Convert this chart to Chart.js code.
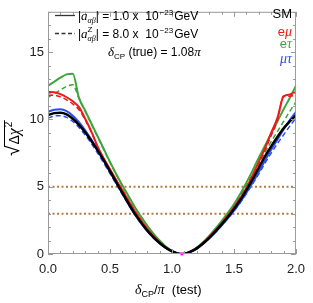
<!DOCTYPE html>
<html>
<head>
<meta charset="utf-8">
<script src="https://cdn.jsdelivr.net/npm/chart.js@4/dist/chart.umd.min.js"></script>
<style>
  html, body { margin: 0; padding: 0; background: #fff; }
  #wrap { width: 313px; height: 303px; }
</style>
</head>
<body>
<div id="wrap"><canvas id="chart"></canvas></div>
<script>
// delta_CP / pi (test) grid shared by every curve
const deltaTest = [0, 0.05, 0.1, 0.15, 0.2, 0.25, 0.3, 0.35, 0.4, 0.45, 0.5, 0.55, 0.6, 0.65, 0.7, 0.75, 0.8, 0.85, 0.9, 0.95,
                   1.0, 1.05, 1.08, 1.1, 1.15, 1.2, 1.25, 1.3, 1.35, 1.4, 1.45, 1.5, 1.55, 1.6, 1.65, 1.7, 1.75, 1.8, 1.85, 1.9, 1.95, 2.0];

// sqrt(delta chi^2)
const smValues = [10.33, 10.47, 10.5, 10.38, 10.05, 9.6, 9.05, 8.4, 7.7, 6.95, 6.15, 5.35, 4.55, 3.75, 3.0, 2.35, 1.75, 1.25, 0.82, 0.47,
                  0.2, 0.03, 0, 0.02, 0.17, 0.42, 0.78, 1.2, 1.68, 2.2, 2.75, 3.35, 4.0, 4.75, 5.55, 6.4, 7.25, 8.0, 8.7, 9.35, 9.85, 10.3];
const mutauSolid = [10.57, 10.72, 10.75, 10.62, 10.28, 9.8, 9.2, 8.5, 7.75, 6.95, 6.12, 5.3, 4.5, 3.7, 2.95, 2.3, 1.72, 1.22, 0.8, 0.46,
                    0.2, 0.03, 0, 0.02, 0.16, 0.4, 0.75, 1.15, 1.62, 2.12, 2.65, 3.22, 3.85, 4.55, 5.3, 6.1, 6.95, 7.75, 8.5, 9.25, 9.95, 10.57];
const mutauDashed = [10.1, 10.25, 10.28, 10.15, 9.85, 9.4, 8.85, 8.2, 7.5, 6.75, 5.98, 5.2, 4.42, 3.65, 2.92, 2.28, 1.7, 1.2, 0.8, 0.46,
                     0.2, 0.03, 0, 0.02, 0.16, 0.4, 0.75, 1.15, 1.6, 2.1, 2.62, 3.18, 3.8, 4.48, 5.2, 5.95, 6.75, 7.5, 8.2, 8.85, 9.5, 10.1];
const emuSolid = [12.05, 12.02, 11.88, 11.65, 11.35, 10.92, 10.05, 9.1, 8.0, 7.1, 6.3, 5.5, 4.75, 3.95, 3.2, 2.5, 1.88, 1.35, 0.88, 0.5,
                  0.22, 0.04, 0, 0.02, 0.18, 0.44, 0.8, 1.24, 1.74, 2.28, 2.85, 3.47, 4.15, 4.9, 5.85, 6.85, 7.85, 9.0, 10.1, 11.7, 11.85, 12.05];
const emuDashed = [11.8, 11.8, 11.68, 11.45, 11.15, 10.72, 9.95, 9.05, 7.95, 7.07, 6.27, 5.48, 4.73, 3.94, 3.19, 2.5, 1.88, 1.35, 0.88, 0.5,
                   0.22, 0.04, 0, 0.02, 0.18, 0.44, 0.8, 1.24, 1.73, 2.27, 2.84, 3.45, 4.12, 4.85, 5.75, 6.7, 7.7, 8.8, 9.9, 11.75, 11.72, 11.8];
const etauSolid = [12.5, 12.8, 13.1, 13.35, 13.4, 11.6, 10.65, 9.7, 8.75, 7.8, 6.85, 5.95, 5.1, 4.3, 3.5, 2.78, 2.12, 1.52, 1.0, 0.56,
                   0.24, 0.04, 0, 0.02, 0.2, 0.48, 0.87, 1.35, 1.88, 2.45, 3.05, 3.7, 4.45, 5.3, 6.2, 7.15, 8.05, 8.95, 9.85, 10.75, 11.6, 12.5];
const etauDashed = [11.65, 11.9, 12.2, 12.45, 12.58, 11.55, 10.6, 9.65, 8.7, 7.75, 6.8, 5.9, 5.05, 4.25, 3.47, 2.75, 2.1, 1.5, 0.98, 0.55,
                    0.24, 0.04, 0, 0.02, 0.2, 0.47, 0.85, 1.32, 1.84, 2.4, 3.0, 3.62, 4.32, 5.1, 5.9, 6.75, 7.55, 8.35, 9.1, 9.85, 10.6, 11.3];

// horizontal confidence levels and the true value
const clLevels = [5, 3];
const deltaTrue = 1.08;

const SANS = '"Liberation Sans", Arial, sans-serif';
const SERIF = '"Liberation Serif", "Times New Roman", serif';
const RED = '#f01818', GREEN = '#3ca53a', BLUE = '#2b4ff0', BROWN = '#b8793e';

const toPoints = ys => ys.map((y, i) => ({ x: deltaTest[i], y }));

function curve(ys, color, dashed, width) {
  return {
    data: toPoints(ys),
    borderColor: color,
    borderWidth: width || (dashed ? 1.5 : 2),
    borderDash: dashed ? [5, 3] : [],
    pointRadius: 0,
    cubicInterpolationMode: 'monotone',
    fill: false
  };
}

const datasets = [
  { data: [{ x: deltaTrue, y: 0 }], showLine: false, pointRadius: 1.6, pointBackgroundColor: '#ff00ff', pointBorderWidth: 0, clip: false },
  curve(smValues, '#000', false, 2.5),
  curve(mutauSolid, BLUE, false),
  curve(mutauDashed, BLUE, true),
  curve(emuSolid, RED, false),
  curve(emuDashed, RED, true),
  curve(etauSolid, GREEN, false),
  curve(etauDashed, GREEN, true)
];
clLevels.forEach(v => {
  datasets.push({
    data: [{ x: 0, y: v }, { x: 2, y: v }],
    borderColor: BROWN, borderWidth: 2, borderDash: [2, 2.5], pointRadius: 0
  });
});

// draw a row of text pieces, each with its own font / offset
function drawRuns(ctx, x, y, parts) {
  parts.forEach(p => {
    ctx.font = p.f;
    ctx.fillStyle = p.c || '#000';
    ctx.fillText(p.t, x, y + (p.dy || 0));
    x += ctx.measureText(p.t).width + (p.dx || 0);
  });
  return x;
}

const decorations = {
  id: 'decorations',
  afterDraw(chart) {
    const ctx = chart.ctx;
    const a = chart.chartArea;
    const xs = chart.scales.x, ys = chart.scales.y;
    ctx.save();

    // frame
    ctx.strokeStyle = '#9a9a9a';
    ctx.lineWidth = 1;
    ctx.strokeRect(a.left + 0.5, a.top + 0.5, a.right - a.left - 1, a.bottom - a.top - 1);

    // inward ticks on all four sides
    ctx.beginPath();
    xs.ticks.forEach(t => {
      const px = Math.round(xs.getPixelForValue(t.value)) + 0.5;
      const len = Math.round(t.value * 10) % 5 === 0 ? 5 : 3;
      ctx.moveTo(px, a.bottom); ctx.lineTo(px, a.bottom - len);
      ctx.moveTo(px, a.top); ctx.lineTo(px, a.top + len);
    });
    ys.ticks.forEach(t => {
      const py = Math.round(ys.getPixelForValue(t.value)) + 0.5;
      const len = t.value % 5 === 0 ? 5 : 3;
      ctx.moveTo(a.left, py); ctx.lineTo(a.left + len, py);
      ctx.moveTo(a.right, py); ctx.lineTo(a.right - len, py);
    });
    ctx.stroke();

    ctx.textBaseline = 'alphabetic';
    ctx.textAlign = 'left';

    // legend: line styles
    ctx.strokeStyle = '#333';
    ctx.lineWidth = 1.3;
    ctx.setLineDash([]);
    ctx.beginPath(); ctx.moveTo(55, 15.5); ctx.lineTo(75, 15.5); ctx.stroke();
    ctx.setLineDash([4, 2.5]);
    ctx.beginPath(); ctx.moveTo(55, 33.5); ctx.lineTo(75, 33.5); ctx.stroke();
    ctx.setLineDash([]);

    const f12 = '12px ' + SANS, f8 = '8px ' + SANS;
    let x = drawRuns(ctx, 78, 20, [
      { t: '|', f: f12 },
      { t: 'a', f: 'italic 13px ' + SERIF },
      { t: 'αβ', f: 'italic 8px ' + SERIF, dy: 3 },
      { t: '| = 1.0 x  10', f: f12, dx: 1 },
      { t: '−23', f: f8, dy: -5, dx: 1 },
      { t: 'GeV', f: f12 }
    ]);
    x = drawRuns(ctx, 78, 38, [
      { t: '|', f: f12 },
      { t: 'a', f: 'italic 13px ' + SERIF }
    ]);
    ctx.font = '8px ' + SANS;
    ctx.fillText('Z', x, 32);
    ctx.font = 'italic 8px ' + SERIF;
    ctx.fillText('αβ', x, 41);
    drawRuns(ctx, x + ctx.measureText('αβ').width, 38, [
      { t: '| = 8.0 x  10', f: f12, dx: 1 },
      { t: '−23', f: f8, dy: -5, dx: 1 },
      { t: 'GeV', f: f12 }
    ]);
    drawRuns(ctx, 108, 56, [
      { t: 'δ', f: 'italic 13px ' + SERIF },
      { t: 'CP', f: '8px ' + SANS, dy: 3 },
      { t: ' (true) = 1.08', f: f12 },
      { t: 'π', f: 'italic 13px ' + SERIF }
    ]);

    // channel labels, right aligned
    const rightX = 292;
    const label = (parts, y) => {
      let w = 0;
      parts.forEach(p => { ctx.font = p.f; w += ctx.measureText(p.t).width; });
      drawRuns(ctx, rightX - w, y, parts);
    };
    label([{ t: 'SM', f: '13px ' + SANS, c: '#000' }], 18);
    label([{ t: 'e', f: '13px ' + SANS, c: RED }, { t: 'μ', f: 'italic 14px ' + SERIF, c: RED }], 36);
    label([{ t: 'e', f: '13px ' + SANS, c: GREEN }, { t: 'τ', f: 'italic 14px ' + SERIF, c: GREEN }], 48);
    label([{ t: 'μτ', f: 'italic 14px ' + SERIF, c: BLUE }], 63);

    // x axis title
    drawRuns(ctx, 135, 294, [
      { t: 'δ', f: 'italic 14px ' + SERIF },
      { t: 'CP', f: '9px ' + SANS, dy: 3 },
      { t: '/', f: '13px ' + SANS },
      { t: 'π', f: 'italic 14px ' + SERIF },
      { t: '  (test)', f: '13px ' + SANS }
    ]);

    // y axis title: sqrt(delta chi^2), rotated
    ctx.translate(19, 156);
    ctx.rotate(-Math.PI / 2);
    ctx.font = '19px ' + SANS;
    ctx.fillText('√', 0, 0);
    const sx = ctx.measureText('√').width;
    const ex = drawRuns(ctx, sx + 1, 0, [
      { t: 'Δ', f: '14px ' + SANS },
      { t: 'χ', f: 'italic 16px ' + SERIF }
    ]);
    ctx.strokeStyle = '#000';
    ctx.lineWidth = 1;
    ctx.beginPath(); ctx.moveTo(sx - 1, -14.5); ctx.lineTo(ex + 8, -14.5); ctx.stroke();
    ctx.font = '10px ' + SANS;
    ctx.fillText('2', ex + 1, -7);

    ctx.restore();
  }
};

new Chart(document.getElementById('chart'), {
  type: 'line',
  data: { datasets },
  options: {
    responsive: true,
    maintainAspectRatio: false,
    animation: false,
    layout: { padding: { top: 1, right: 11, left: 0, bottom: 0 } },
    plugins: { legend: { display: false }, tooltip: { enabled: false } },
    scales: {
      x: {
        type: 'linear', min: 0, max: 2,
        grid: { display: false, drawTicks: false },
        border: { display: false },
        ticks: {
          stepSize: 0.1, autoSkip: false, maxRotation: 0, padding: 8,
          color: '#222', font: { family: SANS, size: 13 },
          callback: v => Math.round(v * 10) % 5 === 0 ? v.toFixed(1) : ''
        },
        afterFit: s => { s.height = 49; }
      },
      y: {
        type: 'linear', min: 0, max: 18,
        grid: { display: false, drawTicks: false },
        border: { display: false },
        ticks: {
          stepSize: 1, autoSkip: false, padding: 4,
          color: '#222', font: { family: SANS, size: 13 },
          callback: v => v % 5 === 0 ? String(v) : ''
        },
        afterFit: s => { s.width = 48; }
      }
    }
  },
  plugins: [decorations]
});
</script>
</body>
</html>
